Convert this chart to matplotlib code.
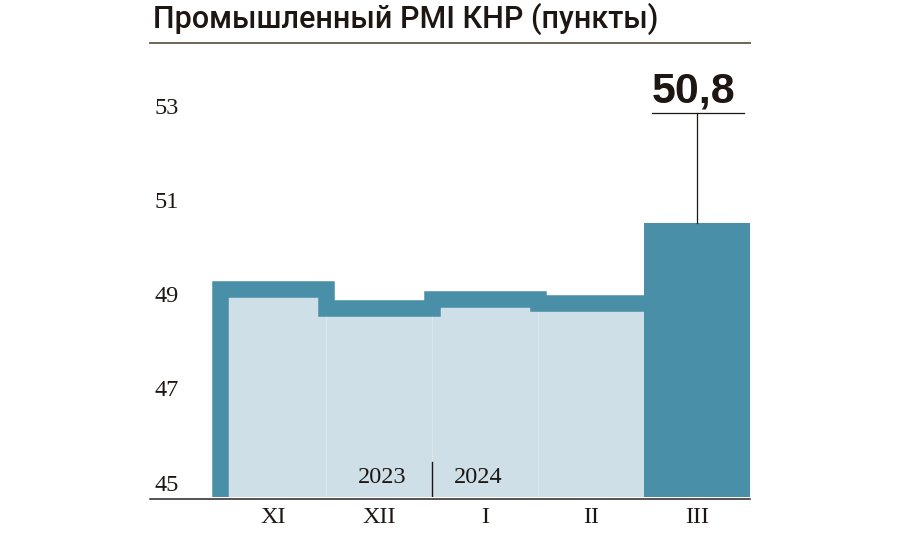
import matplotlib
matplotlib.use("Agg")
import matplotlib.pyplot as plt
import matplotlib.transforms as mtransforms
from matplotlib.lines import Line2D
import numpy as np

# data
months = ["XI", "XII", "I", "II", "III"]
pmi = [49.4, 49.0, 49.2, 49.1, 50.8]
year_labels = ["2023", "2024"]
y_ticks = [45, 47, 49, 51, 53]
title = "Промышленный PMI КНР (пункты)"
last_label = "50,8"

dark = "#4a8fa8"
light = "#cedfe7"
ink = "#1e1612"

fig = plt.figure(figsize=(9, 5.37), dpi=100)
ax = fig.add_axes([150 / 900, 0.07505, 600 / 900, 0.8339])
ax.set_xlim(-1.16, 4.5)
ax.set_ylim(45, 54.5)

# spine first: set_position resets the ticks
for s in ["left", "right", "top"]:
    ax.spines[s].set_visible(False)
ax.spines["bottom"].set_position(("outward", 1.3))
ax.spines["bottom"].set_linewidth(1.1)
ax.spines["bottom"].set_color("#2b2420")

base = y_ticks[0]
x = np.arange(len(months))
hist = np.array(pmi[:-1])

# light fill under the step line
ax.bar(x[:-1], hist - base, bottom=base, width=1, color=light,
       edgecolor="#dae7ed", linewidth=0.8, zorder=1)

# thick step line
edges = np.arange(len(hist) + 1) - 0.5
xs = np.repeat(edges, 2)[:-1]
ys = np.concatenate([[base - 1], np.repeat(hist, 2)])
ax.plot(xs, ys, color=dark, lw=11.9, solid_joinstyle="miter",
        solid_capstyle="butt", zorder=2)

# last month as a solid bar
ax.bar(x[-1], pmi[-1] - base, bottom=base, width=1, color=dark,
       linewidth=0, zorder=2)

# callout for the last value
top = 53.13
ax.plot([x[-1], x[-1]], [pmi[-1], top], color=ink, lw=0.9, zorder=3, clip_on=False)
ax.plot([x[-1] - 0.42, x[-1] + 0.44], [top, top], color=ink, lw=0.9, zorder=3, clip_on=False)
tr = mtransforms.offset_copy(ax.transData, fig=fig, x=0, y=11, units="dots")
ax.text(x[-1] - 0.03, top, last_label, transform=tr, ha="center", va="baseline",
        fontsize=31, fontweight="bold", color=ink, family="Liberation Sans")

# y labels sitting above their level
tr_y = mtransforms.offset_copy(ax.transData, fig=fig, x=0, y=6, units="dots")
for v in y_ticks:
    ax.text(-1.113, v, str(v), transform=tr_y, ha="left", va="baseline",
            fontsize=17.5, family="Liberation Serif", color=ink)

# year divider
ax.plot([1.5, 1.5], [base, 45.74], color=ink, lw=1.0, zorder=3)
ax.text(1.255, 45.29, year_labels[0], ha="right", va="baseline",
        fontsize=17.5, family="Liberation Serif", color=ink, zorder=3)
ax.text(1.71, 45.29, year_labels[1], ha="left", va="baseline",
        fontsize=17.5, family="Liberation Serif", color=ink, zorder=3)

ax.set_xticks(x)
ax.set_xticklabels(months, fontsize=17.5, family="Liberation Serif", color=ink)
ax.tick_params(axis="x", length=0, pad=6)
ax.set_yticks([])

fig.text(153 / 900, 1 - 28 / 537, title, ha="left", va="baseline",
         fontsize=22, fontweight="medium", family="Roboto", color=ink)
fig.add_artist(Line2D([150 / 900, 750 / 900], [1 - 42.7 / 537] * 2,
                      color="#6e6655", lw=1.4))

fig.savefig("out.png", dpi=100)
